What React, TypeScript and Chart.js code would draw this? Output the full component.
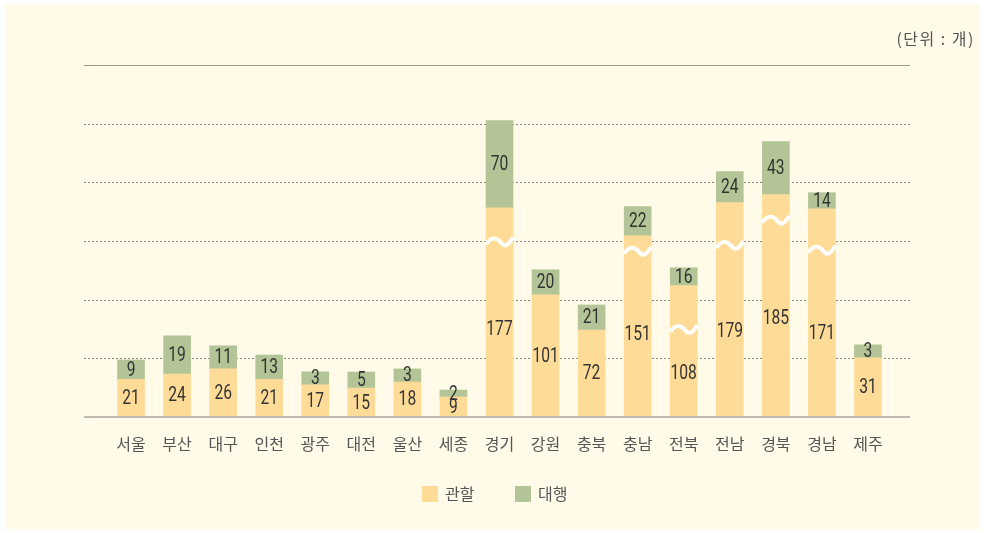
import React, { useEffect, useRef } from "react";
import { Chart, registerables } from "chart.js";

Chart.register(...registerables);

const categories = ["서울", "부산", "대구", "인천", "광주", "대전", "울산", "세종", "경기", "강원", "충북", "충남", "전북", "전남", "경북", "경남", "제주"];
const seriesLabels = ["관할", "대행"];
// actual values (shown as labels)
const jurisdictionValues = [21, 24, 26, 21, 17, 15, 18, 9, 177, 101, 72, 151, 108, 179, 185, 171, 31];
const agencyValues = [9, 19, 11, 13, 3, 5, 3, 2, 70, 20, 21, 22, 16, 24, 43, 14, 3];
// drawn heights on the broken (compressed) axis
const jurisdictionDrawn = [19.3, 22, 24.6, 19.3, 16.4, 14.8, 17.9, 10.2, 107, 62.5, 44.5, 92.7, 67.2, 109.6, 113.7, 106.5, 30.2];
const agencyDrawn = [9.9, 19.5, 11.8, 12.4, 6.7, 8.2, 6.7, 3.6, 44.6, 12.8, 12.8, 14.9, 9.1, 15.9, 27.1, 8.2, 6.7];
// position of the axis-break mark on the lower segment (null = no break)
const breakMarks: (number | null)[] = [null, null, null, null, null, null, null, null, 89.8, null, null, 85, 45, 88, 100.9, 85.5, null];
const gridTicks = [30, 60, 90, 120, 150];
const axisMax = 180;
const unitLabel = "(단위 : 개)";

const COLORS = ["#fedc98", "#b3c596"];
const BG = "#fffbe8";

export default function App() {
  const ref = useRef<HTMLCanvasElement | null>(null);

  useEffect(() => {
    if (!ref.current) return;

    const decor = {
      id: "decor",
      beforeDraw(chart: any) {
        const ctx = chart.ctx;
        ctx.save();
        ctx.fillStyle = "#ffffff";
        ctx.fillRect(0, 0, chart.width, chart.height);
        ctx.fillStyle = BG;
        ctx.fillRect(5, 4, 974, 525);
        ctx.restore();
      },
      beforeDatasetsDraw(chart: any) {
        const ctx = chart.ctx;
        const y = chart.scales.y;
        ctx.save();
        ctx.strokeStyle = "#8a8a8a";
        ctx.lineWidth = 1;
        ctx.setLineDash([2, 2]);
        gridTicks.forEach((t) => {
          const py = Math.round(y.getPixelForValue(t)) + 0.5;
          ctx.beginPath();
          ctx.moveTo(84, py);
          ctx.lineTo(910, py);
          ctx.stroke();
        });
        ctx.setLineDash([]);
        ctx.strokeStyle = "#9a9a8a";
        const top = Math.round(y.getPixelForValue(axisMax)) + 0.5;
        ctx.beginPath();
        ctx.moveTo(84, top);
        ctx.lineTo(910, top);
        ctx.stroke();
        ctx.restore();
      },
      afterDatasetsDraw(chart: any) {
        const ctx = chart.ctx;
        const y = chart.scales.y;
        const x = chart.scales.x;
        const bw = 27;
        ctx.save();
        // break marks
        ctx.strokeStyle = "#ffffff";
        ctx.lineWidth = 4;
        ctx.lineCap = "butt";
        breakMarks.forEach((b, i) => {
          if (b == null) return;
          const cx = x.getPixelForValue(i);
          const cy = y.getPixelForValue(b);
          const x0 = cx - bw / 2;
          const x1 = cx + bw / 2;
          ctx.beginPath();
          ctx.moveTo(x0, cy + 3);
          ctx.bezierCurveTo(x0 + bw * 0.25, cy - 8, x0 + bw * 0.5, cy - 1, cx + 2, cy + 2);
          ctx.bezierCurveTo(x0 + bw * 0.75, cy + 7, x1 - 3, cy + 1, x1, cy - 4);
          ctx.stroke();
        });
        // baseline
        const base = y.getPixelForValue(0);
        ctx.strokeStyle = "#bdbbb0";
        ctx.lineWidth = 2;
        ctx.beginPath();
        ctx.moveTo(84, base);
        ctx.lineTo(910, base);
        ctx.stroke();
        // value labels (condensed)
        ctx.fillStyle = "#333333";
        ctx.font = "20px Roboto, 'DejaVu Sans', sans-serif";
        ctx.textAlign = "center";
        ctx.textBaseline = "middle";
        const drawNarrow = (t: string, px: number, py: number) => {
          ctx.save();
          ctx.translate(px, py);
          ctx.scale(0.78, 1);
          ctx.fillText(t, 0, 0);
          ctx.restore();
        };
        categories.forEach((_, i) => {
          const cx = x.getPixelForValue(i);
          const lowTop = breakMarks[i] != null ? (breakMarks[i] as number) : jurisdictionDrawn[i];
          const y1 = (y.getPixelForValue(0) + y.getPixelForValue(lowTop)) / 2;
          drawNarrow(String(jurisdictionValues[i]), cx, y1 + 1);
          const a = jurisdictionDrawn[i];
          const y2 = (y.getPixelForValue(a) + y.getPixelForValue(a + agencyDrawn[i])) / 2;
          drawNarrow(String(agencyValues[i]), cx, y2 + 1);
        });
        // legend
        ctx.font = "16px 'Noto Sans CJK KR', sans-serif";
        ctx.textAlign = "left";
        const legendX = [422, 515];
        seriesLabels.forEach((lab, k) => {
          ctx.fillStyle = COLORS[k];
          ctx.fillRect(legendX[k], 486, 16, 16);
          ctx.fillStyle = "#555555";
          ctx.fillText(lab, legendX[k] + 23, 494);
        });
        // unit
        ctx.textAlign = "right";
        ctx.font = "16px 'Noto Sans CJK KR', sans-serif";
        (ctx as any).letterSpacing = "1.5px";
        ctx.fillText(unitLabel, 975, 39);
        ctx.restore();
      },
    };

    const chart = new Chart(ref.current, {
      type: "bar",
      data: {
        labels: categories,
        datasets: [
          { label: seriesLabels[0], data: jurisdictionDrawn, backgroundColor: COLORS[0], barThickness: 27 },
          { label: seriesLabels[1], data: agencyDrawn, backgroundColor: COLORS[1], barThickness: 27 },
        ],
      },
      options: {
        responsive: false,
        animation: false,
        devicePixelRatio: 1,
        layout: { padding: { left: 108, right: 93, top: 65, bottom: 66 } },
        plugins: { legend: { display: false }, tooltip: { enabled: false } },
        scales: {
          x: {
            stacked: true,
            offset: true,
            grid: { display: false, drawTicks: false },
            border: { display: false },
            ticks: {
              color: "#555555",
              padding: 17,
              font: { family: "'Noto Sans CJK KR', sans-serif", size: 16 },
            },
            afterFit: (s: any) => {
              s.height = 50;
            },
          },
          y: {
            stacked: true,
            display: false,
            min: 0,
            max: axisMax,
          },
        },
      },
      plugins: [decor],
    });
    return () => chart.destroy();
  }, []);

  return (
    <div style={{ position: "fixed", left: 0, top: 0, width: 984, height: 533 }}>
      <canvas ref={ref} width={984} height={533} style={{ width: 984, height: 533, display: "block" }} />
    </div>
  );
}
